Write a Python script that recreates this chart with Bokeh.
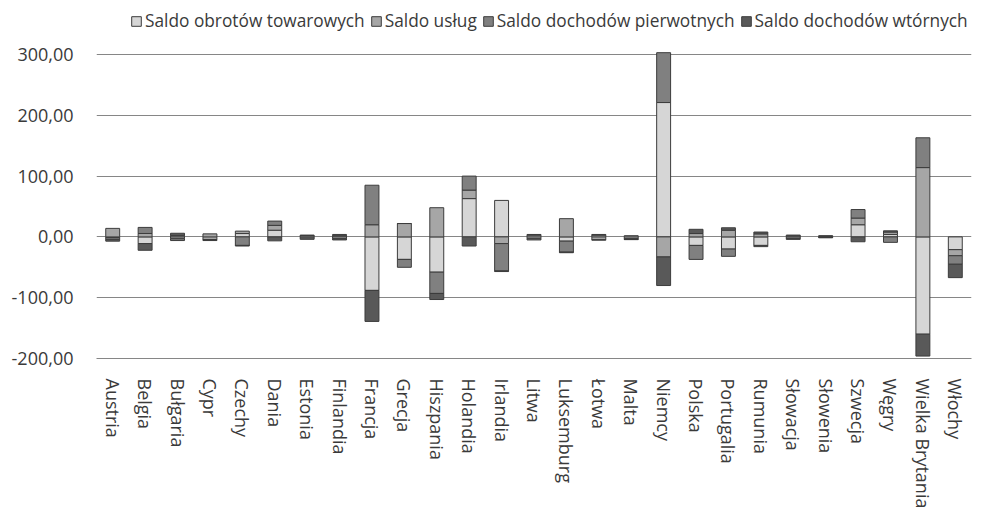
from bokeh.plotting import figure
from bokeh.models import Range1d, FactorRange, FixedTicker, Legend, LegendItem
from bokeh.embed import file_html
from bokeh.resources import INLINE

countries = ["Austria", "Belgia", "Bułgaria", "Cypr", "Czechy", "Dania", "Estonia",
             "Finlandia", "Francja", "Grecja", "Hiszpania", "Holandia", "Irlandia",
             "Litwa", "Luksemburg", "Łotwa", "Malta", "Niemcy", "Polska", "Portugalia",
             "Rumunia", "Słowacja", "Słowenia", "Szwecja", "Węgry", "Wielka Brytania",
             "Włochy"]

goods = [-1, -11, -3, -4, 5.5, 11, -2, 2, -88, -37, -58, 63, 60, -3, -7, -4, -3,
         221, -14, -20, -14, 2, 1, 20, 4, -160, -21]
services = [14, 5.6, 2, 5, 4, 8, 2, -3, 20, 22, 48, 14, -11, 3, 30, 3, 2,
            -33, 5.5, 11, 5, 1, 1, 11, 4, 114, -10]
primary = [-3, 10, -3, -1, -14, 7, -2, 2, 65, -13, -35, 23, -45, -2, -18, -1.5, -1,
           82, -23, -12, -2, -3, -1, 14, -9, 49, -14]
secondary = [-3, -11, 4, -1, -1, -6.5, 1, -2, -51, 0, -10, -15, -1, 1, -1, 1, -0.5,
             -47, 7, 4, 3, -1, -0.5, -8, 2, -36, -22]

series_names = ["Saldo obrotów towarowych", "Saldo usług",
                "Saldo dochodów pierwotnych", "Saldo dochodów wtórnych"]
series_colors = ["#d6d6d6", "#a6a6a6", "#808080", "#595959"]

y_ticks = [-200, -100, 0, 100, 200, 300]
y_tick_labels = ["-200,00", "-100,00", "0,00", "100,00", "200,00", "300,00"]

# frame spans the whole height above the category axis; the band above the
# 300 gridline holds the legend (scale: 500 units over 304 px)
FRAME_H = 358
Y_MIN, Y_MAX_TICK = -200, 300
y_end = Y_MIN + (Y_MAX_TICK - Y_MIN) * FRAME_H / 304.0

p = figure(width=995, height=514, output_backend="svg", toolbar_location=None,
           x_range=FactorRange(factors=countries, range_padding=0),
           y_range=Range1d(Y_MIN, y_end),
           min_border_left=96, min_border_right=24, min_border_top=0,
           min_border_bottom=514 - FRAME_H)
p.outline_line_color = None

font = "Open Sans"
text_color = "#3a3a3a"

n = len(countries)
pos_base = [0.0] * n
neg_base = [0.0] * n
items = []
for name, vals, color in zip(series_names, [goods, services, primary, secondary], series_colors):
    bottoms, tops = [], []
    for i, v in enumerate(vals):
        if v >= 0:
            b = pos_base[i]
            t = b + v
            pos_base[i] = t
        else:
            b = neg_base[i]
            t = b + v
            neg_base[i] = t
        bottoms.append(b)
        tops.append(t)
    r = p.vbar(x=countries, bottom=bottoms, top=tops, width=0.43,
               fill_color=color, line_color="#3c3c3c", line_width=1)
    items.append(LegendItem(label=name, renderers=[r]))

p.xgrid.grid_line_color = None
p.ygrid.grid_line_color = "#868686"
p.ygrid.grid_line_width = 1

p.yaxis.ticker = FixedTicker(ticks=y_ticks)
p.yaxis.major_label_overrides = dict(zip(y_ticks, y_tick_labels))
p.yaxis.axis_line_color = None
p.yaxis.major_tick_line_color = None
p.yaxis.minor_tick_line_color = None
p.yaxis.major_tick_out = 0
p.yaxis.major_label_standoff = 23
p.yaxis.major_label_text_font = font
p.yaxis.major_label_text_font_size = "18px"
p.yaxis.major_label_text_color = text_color

p.xaxis.axis_line_color = "#868686"
p.xaxis.major_tick_line_color = None
p.xaxis.major_tick_out = 0
p.xaxis.major_label_orientation = "vertical"
p.xaxis.major_label_standoff = 20
p.xaxis.major_label_text_font = font
p.xaxis.major_label_text_font_size = "18px"
p.xaxis.major_label_text_color = text_color

legend = Legend(items=items, orientation="horizontal", location=(34, 326),
                label_text_font=font, label_text_font_size="17.3px",
                label_text_color=text_color, glyph_width=12, glyph_height=12,
                label_standoff=3, spacing=5, padding=0, margin=0,
                border_line_color=None, background_fill_alpha=0)
p.add_layout(legend, "center")

open("out.html", "w").write(file_html(p, INLINE))
